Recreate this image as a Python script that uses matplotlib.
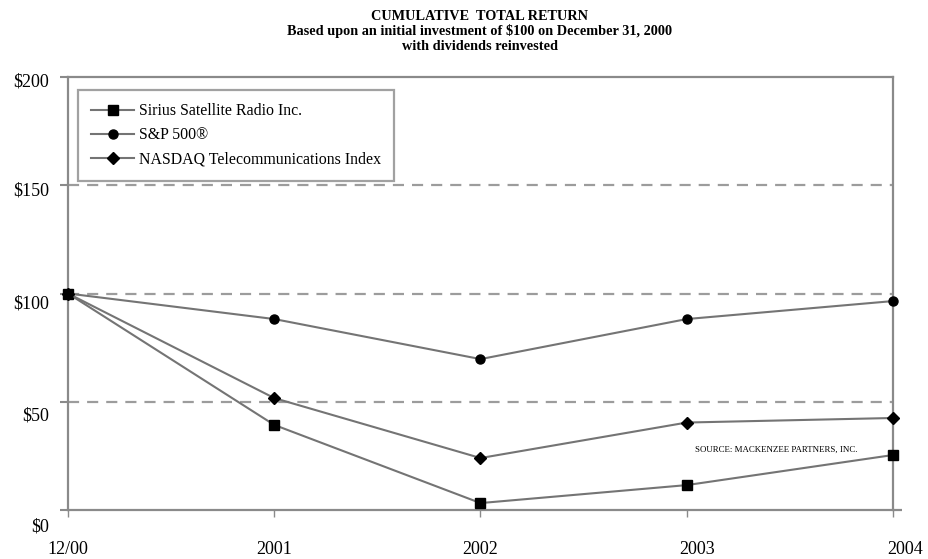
import matplotlib
matplotlib.use("Agg")
import matplotlib.pyplot as plt
from matplotlib.transforms import ScaledTranslation

# ---- data ----
periods = ["12/00", "2001", "2002", "2003", "2004"]
sirius = [100, 39.3, 3.2, 11.5, 25.4]
sp500 = [100, 88.2, 69.7, 88.2, 96.5]
nasdaq_tel = [100, 51.7, 24.0, 40.4, 42.5]
series_names = ["Sirius Satellite Radio Inc.", "S&P 500\u00ae", "NASDAQ Telecommunications Index"]
y_ticks = [0, 50, 100, 150, 200]
y_tick_labels = ["$0", "$50", "$100", "$150", "$200"]
title_lines = ["CUMULATIVE  TOTAL RETURN",
               "Based upon an initial investment of $100 on December 31, 2000",
               "with dividends reinvested"]
source_note = "SOURCE: MACKENZEE PARTNERS, INC."

plt.rcParams['font.family'] = ['Liberation Serif', 'DejaVu Serif']

W, H = 929, 559
fig = plt.figure(figsize=(W / 100, H / 100), dpi=100)
L, R, T, B = 68, 893, 77, 510
ax = fig.add_axes([L / W, 1 - B / H, (R - L) / W, (B - T) / H])

spine_col = "#8a8a8a"
line_col = "#747474"
grid_col = "#9c9c9c"

x = list(range(len(periods)))
ax.set_xlim(0, len(periods) - 1)
ax.set_ylim(y_ticks[0], y_ticks[-1])

for v in y_ticks[1:-1]:
    ax.axhline(v, color=grid_col, lw=1.6, linestyle=(0, (5.0, 3.6)), zorder=1)

l1, = ax.plot(x, sirius, color=line_col, lw=1.5, marker='s', ms=6.5,
              mfc='black', mec='black', zorder=3, clip_on=False)
l2, = ax.plot(x, sp500, color=line_col, lw=1.5, marker='o', ms=6.5,
              mfc='black', mec='black', zorder=3, clip_on=False)
l3, = ax.plot(x, nasdaq_tel, color=line_col, lw=1.5, marker='D', ms=6,
              mfc='black', mec='black', zorder=3, clip_on=False)

for s in ax.spines.values():
    s.set_color(spine_col)
    s.set_linewidth(1.6)
# extension of bottom axis past right edge
ax.plot([1, 1.011], [0, 0], transform=ax.transAxes, color=spine_col,
        lw=1.6, clip_on=False, solid_capstyle='butt')

ax.set_xticks(x)
ax.set_xticklabels(periods, fontsize=13)
ax.set_yticks(y_ticks)
ax.set_yticklabels(y_tick_labels, fontsize=13)
ax.tick_params(axis='y', direction='out', length=6, width=1.5, color=spine_col, pad=7.5)
ax.tick_params(axis='x', direction='out', length=5, width=1.0, color=spine_col, pad=17)

y_off = [15, 12, 9, 4, 3]
for lab, dy in zip(ax.get_yticklabels(), y_off):
    lab.set_transform(lab.get_transform() + ScaledTranslation(0, -dy / 100, fig.dpi_scale_trans))
x_off = [0, 0, 0, 10, 12]
for lab, dx in zip(ax.get_xticklabels(), x_off):
    lab.set_transform(lab.get_transform() + ScaledTranslation(dx / 100, 0, fig.dpi_scale_trans))

leg = ax.legend([l1, l2, l3], series_names, loc='upper left',
                bbox_to_anchor=(0.012, 0.970), borderaxespad=0,
                fontsize=11.4, frameon=True, fancybox=False,
                handlelength=2.7, handletextpad=0.3, borderpad=0.85,
                labelspacing=0.5)
leg.get_frame().set_edgecolor(spine_col)
leg.get_frame().set_linewidth(1.6)

ax.text((695 - L) / (R - L), (B - 450) / (B - T), source_note, transform=ax.transAxes,
        fontsize=6.4, ha='left', va='center')

for i, (t, yy) in enumerate(zip(title_lines, [16, 31, 46])):
    fig.text(480 / W, 1 - yy / H, t, ha='center', va='center', fontsize=10.3,
             fontweight='bold')

fig.savefig("out.png", dpi=100)
